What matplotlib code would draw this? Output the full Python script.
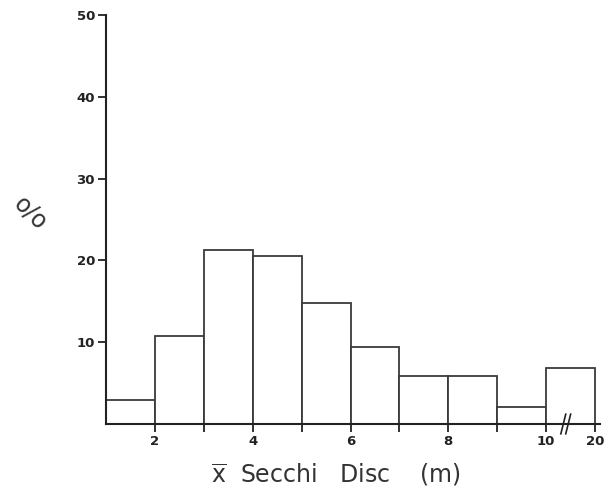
import matplotlib
matplotlib.use("Agg")
import matplotlib.pyplot as plt

# bin edges of mean Secchi depth (m); the last bin 10-20 is drawn compressed
bin_left = [1, 2, 3, 4, 5, 6, 7, 8, 9, 10]
bin_right = [2, 3, 4, 5, 6, 7, 8, 9, 10, 20]
percent = [2.9, 10.7, 21.3, 20.5, 14.8, 9.4, 5.9, 5.9, 2.1, 6.9]

xtick_vals = [2, 3, 4, 5, 6, 7, 8, 9, 10, 20]
xtick_text = ["2", "", "4", "", "6", "", "8", "", "10", "20"]
ytick_vals = [10, 20, 30, 40, 50]

LINE = "#3a3a3a"


def pos(v):
    # broken axis: everything up to 10 is linear, 20 sits one unit past 10
    return v if v <= 10 else 11


fig = plt.figure(figsize=(6.05, 4.97), dpi=100)
ax = fig.add_axes([0.1752, 0.1469, 0.8165, 0.823])

lefts = [pos(a) for a in bin_left]
widths = [pos(b) - pos(a) for a, b in zip(bin_left, bin_right)]
ax.bar(lefts, percent, width=widths, align="edge", facecolor="white",
       edgecolor=LINE, linewidth=1.3)

ax.set_xlim(1, 11.1)
ax.set_ylim(0, 50)

for s in ["top", "right"]:
    ax.spines[s].set_visible(False)
for s in ["left", "bottom"]:
    ax.spines[s].set_color("#222222")
    ax.spines[s].set_linewidth(1.5)

ax.set_xticks([pos(v) for v in xtick_vals])
ax.set_xticklabels(xtick_text, fontsize=9.5, fontweight="bold")
ax.set_yticks(ytick_vals)
ax.set_yticklabels([str(v) for v in ytick_vals], fontsize=9.5, fontweight="bold")
ax.tick_params(axis="both", direction="out", length=6, width=1.3,
               colors="#222222", pad=2)

# axis break marks between 10 and 20
for dx in (-0.05, 0.05):
    ax.plot([10.4 + dx - 0.05, 10.4 + dx + 0.05], [-1.2, 1.2],
            color="#222222", linewidth=1.2, clip_on=False)

fig.text(0.555, 0.045, r"$\overline{\mathrm{x}}$  Secchi   Disc    (m)",
         fontsize=17, color="#333333", ha="center", va="center")
fig.text(0.05, 0.57, "o/o", fontsize=17, rotation=-45, color="#333333",
         ha="center", va="center")

fig.savefig("out.png", dpi=100)
